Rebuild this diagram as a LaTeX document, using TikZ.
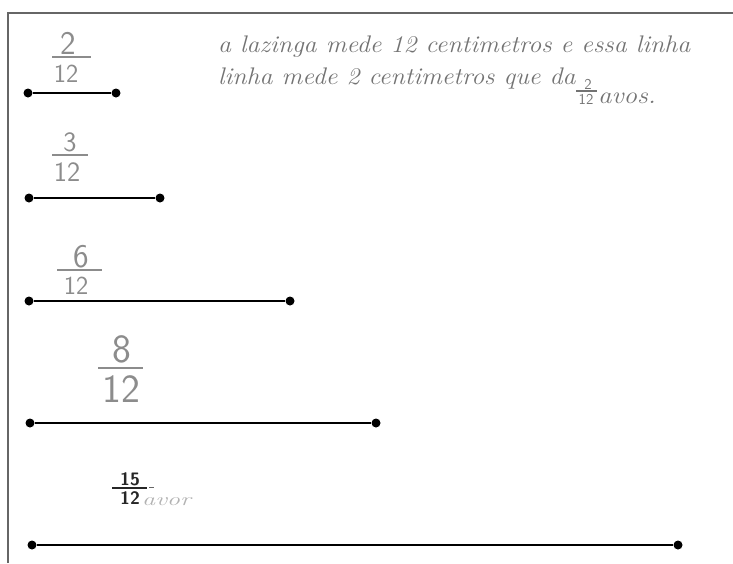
\documentclass[tikz,border=0pt]{standalone}
\usepackage{fontspec}
\begin{document}
\begin{tikzpicture}[x=1pt,y=-1pt,
  dot/.style={circle, fill=black, inner sep=0pt, minimum size=9pt},
  seg/.style={line width=2pt, black},
  dig/.style={text=black!45, inner sep=0pt},
  fbar/.style={black!45, line width=1.4pt},
  hand/.style={text=black!55, anchor=base west, inner sep=0pt, font=\fontsize{24}{28}\selectfont\itshape}]
\useasboundingbox (0,0) rectangle (733,563);
\draw[black!60, line width=1.3pt] (8,563) -- (8,13) -- (733,13);

% fraction 2/12
\node[dig, font=\fontsize{33}{36}\selectfont\sffamily] (n1) at (68,43) {2};
\coordinate (l1) at (52,57); \coordinate (r1) at (91,57);
\draw[fbar] (l1) -- (r1);
\node[dig, font=\fontsize{26}{30}\selectfont\sffamily] (d1) at (66,74) {12};
% fraction 3/12
\node[dig, font=\fontsize{28}{32}\selectfont\sffamily] (n2) at (70,142) {3};
\coordinate (l2) at (52,155); \coordinate (r2) at (88,155);
\draw[fbar] (l2) -- (r2);
\node[dig, font=\fontsize{28}{32}\selectfont\sffamily] (d2) at (67,172) {12};
% fraction 6/12
\node[dig, font=\fontsize{33}{36}\selectfont\sffamily] (n3) at (81,257) {6};
\coordinate (l3) at (57,270); \coordinate (r3) at (102,270);
\draw[fbar] (l3) -- (r3);
\node[dig, font=\fontsize{26}{30}\selectfont\sffamily] (d3) at (76,286) {12};
% fraction 8/12
\node[dig, font=\fontsize{40}{44}\selectfont\sffamily] (n4) at (122,349) {8};
\coordinate (l4) at (98,368); \coordinate (r4) at (143,368);
\draw[fbar] (l4) -- (r4);
\node[dig, font=\fontsize{40}{44}\selectfont\sffamily] (d4) at (121,389) {12};
% fraction 15/12 avos
\node[dig, text=black!85, font=\fontsize{18}{20}\selectfont\sffamily\bfseries] (n5) at (130,479) {15};
\coordinate (l5) at (112,488); \coordinate (r5) at (147,488);
\draw[black!85, line width=1.4pt] (l5) -- (r5);
\coordinate (q5) at (149,487); \coordinate (s5) at (154,487);
\draw[black!60, line width=1pt] (q5) -- (s5);
\node[dig, text=black!85, font=\fontsize{18}{20}\selectfont\sffamily\bfseries] (d5) at (130,498) {12};
\node[text=black!30, anchor=base west, inner sep=0pt, font=\fontsize{18}{20}\selectfont\itshape] (av) at (142,505) {\scalebox{1.45}[1]{avor}};

% handwritten note
\node[hand] (t1) at (218,52) {\scalebox{1.08}[1]{a lazinga mede 12 centimetros e essa linha}};
\node[hand] (t2) at (218,84) {\scalebox{1.08}[1]{linha mede 2 centimetros que da}};
\node[dig, text=black!55, font=\fontsize{15}{17}\selectfont\sffamily] (n6) at (588,84) {2};
\coordinate (l6) at (576,91); \coordinate (r6) at (597,91);
\draw[black!55, line width=1.1pt] (l6) -- (r6);
\node[dig, text=black!55, font=\fontsize{15}{17}\selectfont\sffamily] (d6) at (586,99) {12};
\node[hand] (t3) at (598,103) {\scalebox{1.12}[1]{avos.}};

% segments
\node[dot] (a1) at (28,93) {};  \node[dot] (b1) at (116,93) {};
\node[dot] (a2) at (29,198) {}; \node[dot] (b2) at (160,198) {};
\node[dot] (a3) at (29,301) {}; \node[dot] (b3) at (290,301) {};
\node[dot] (a4) at (30,423) {}; \node[dot] (b4) at (376,423) {};
\node[dot] (a5) at (32,545) {}; \node[dot] (b5) at (678,545) {};
\draw[seg] (a1) -- (b1);
\draw[seg] (a2) -- (b2);
\draw[seg] (a3) -- (b3);
\draw[seg] (a4) -- (b4);
\draw[seg] (a5) -- (b5);
\end{tikzpicture}
\end{document}
